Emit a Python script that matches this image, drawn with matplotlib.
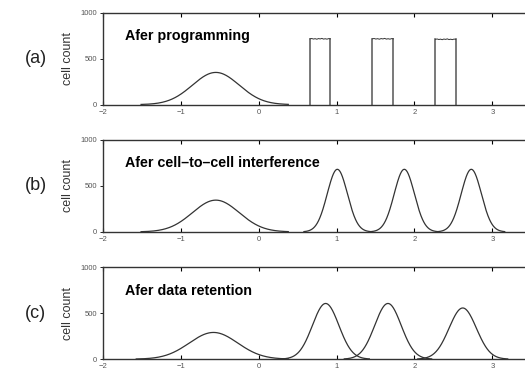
import matplotlib.pyplot as plt
import numpy as np

plt.rcParams['font.family'] = ['Liberation Sans', 'DejaVu Sans']

# panel labels and titles
panel_labels = ['(a)', '(b)', '(c)']
titles = ['Afer programming', 'Afer cell\u2013to\u2013cell interference', 'Afer data retention']

# erased state (left bump): center, peak, width, for each panel
erase_center = [-0.55, -0.55, -0.58]
erase_peak = [350, 345, 290]
erase_sigma = [0.30, 0.30, 0.31]

# (a) programmed states: box edges and height
box_left = [0.66, 1.46, 2.27]
box_right = [0.92, 1.73, 2.53]
box_height = [715, 715, 710]
box_wiggle = [0, 6, -4, 3, -7, 5, -2, 8, -5, 2, -6, 4, 0]

# (b) and (c) programmed states
peak_center = [[1.01, 1.87, 2.73], [0.86, 1.66, 2.62]]
peak_height = [[680, 680, 680], [605, 605, 556]]
peak_sigma = [[0.13, 0.13, 0.13], [0.17, 0.17, 0.175]]

xticks = [-2, -1, 0, 1, 2, 3]
yticks = [0, 500, 1000]

line_col = '#333333'

fig = plt.figure(figsize=(5.25, 3.71), dpi=100)
fig.set_facecolor('white')

bottoms = [0.718, 0.375, 0.032]
for i in range(3):
    ax = fig.add_axes([0.196, bottoms[i], 0.81, 0.248])
    ax.set_xlim(-2, 3.46)
    ax.set_ylim(0, 1000)

    # erased bump
    c, p, s = erase_center[i], erase_peak[i], erase_sigma[i]
    x = np.linspace(c - 3.2 * s, c + 3.1 * s, 300)
    ax.plot(x, p * np.exp(-0.5 * ((x - c) / s) ** 2), color=line_col, lw=0.9)

    if i == 0:
        for l, r, h in zip(box_left, box_right, box_height):
            xs = np.linspace(l, r, len(box_wiggle))
            top = h + np.array(box_wiggle) * 0.6
            ax.plot([l, l], [0, top[0]], color='#555555', lw=1.1)
            ax.plot([r, r], [0, top[-1]], color='#555555', lw=1.1)
            ax.plot(xs, top, color=line_col, lw=0.7)
    else:
        for c, p, s in zip(peak_center[i - 1], peak_height[i - 1], peak_sigma[i - 1]):
            x = np.linspace(c - 3.3 * s, c + 3.3 * s, 300)
            ax.plot(x, p * np.exp(-0.5 * ((x - c) / s) ** 2), color=line_col, lw=0.9)

    ax.text(-1.71, 745, titles[i], fontweight='bold', fontsize=10.3, va='center', ha='left')

    ax.set_xticks(xticks)
    ax.set_xticklabels(['\u22122', '\u22121', '0', '1', '2', '3'])
    ax.set_yticks(yticks)
    ax.tick_params(axis='x', direction='in', top=True, length=3, width=0.8,
                   labelsize=5.5, labelcolor='#555555', pad=3)
    ax.tick_params(axis='y', direction='out', length=2, width=0.6,
                   labelsize=5.5, labelcolor='#555555', pad=2)
    ax.spines['right'].set_visible(False)
    for sp in ['left', 'top', 'bottom']:
        ax.spines[sp].set_linewidth(1.0)
        ax.spines[sp].set_color('#333333')

    ax.set_ylabel('cell count', fontsize=9, color='#333333', labelpad=5)
    fig.text(0.048, bottoms[i] + 0.124, panel_labels[i], fontsize=13,
             va='center', ha='left', color='#222222')

plt.savefig('out.png', dpi=100)
